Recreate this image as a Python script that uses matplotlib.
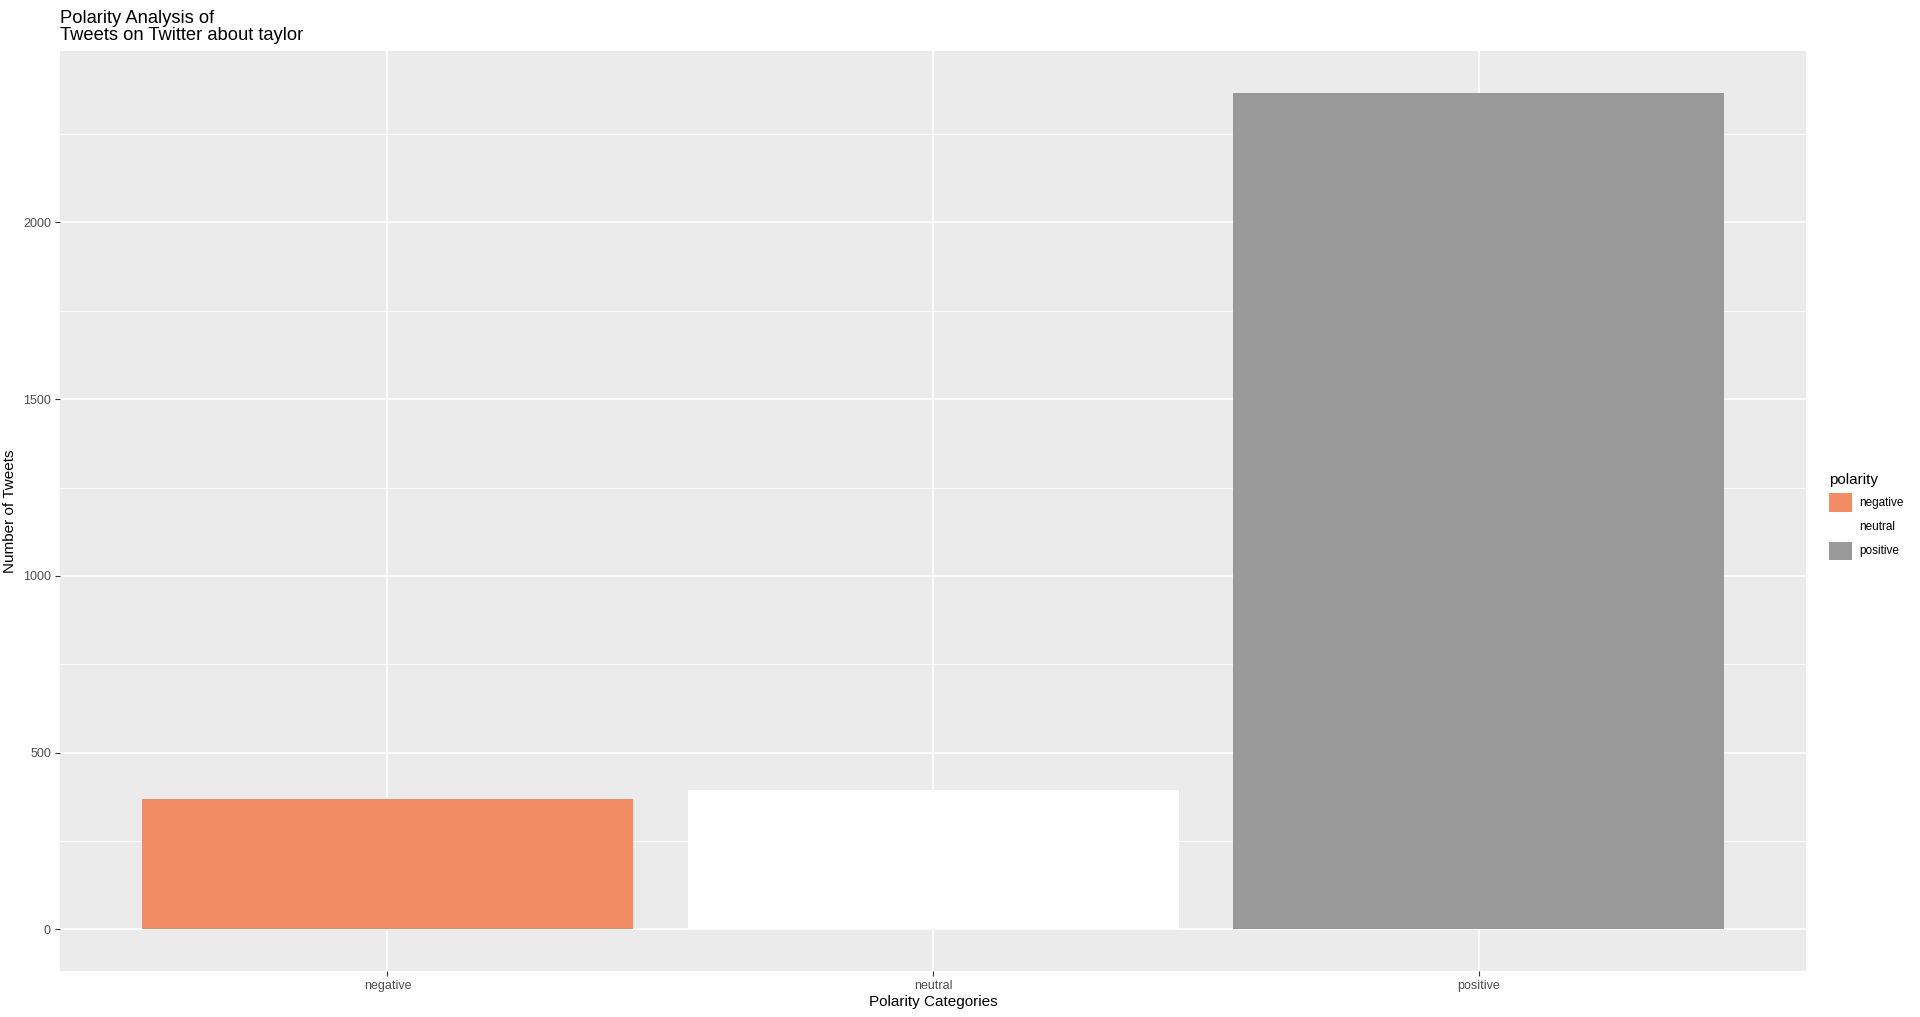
import matplotlib
matplotlib.use('Agg')
import matplotlib.pyplot as plt
from matplotlib.patches import Patch

categories = ["negative", "neutral", "positive"]
counts = [369, 394, 2366]
colors = ["#F08B64", "#FFFFFF", "#999999"]

plt.rcParams['font.family'] = ['Liberation Sans', 'DejaVu Sans']

fig = plt.figure(figsize=(19.2, 10.17), dpi=100)
ax = fig.add_axes([0.03125, 0.0452, 0.9095, 0.9043])
ax.set_facecolor('#EBEBEB')

x = range(1, len(categories) + 1)
ax.bar(x, counts, width=0.9, color=colors, zorder=2)

ymax = max(counts)
ax.set_ylim(-0.05 * ymax, 1.05 * ymax)
ax.set_xlim(0.4, 3.6)
ax.set_xticks(list(x))
ax.set_xticklabels(categories)
ax.set_yticks([0, 500, 1000, 1500, 2000])
ax.set_yticks([250, 750, 1250, 1750, 2250], minor=True)
ax.grid(which='major', color='white', linewidth=1.1, zorder=0)
ax.grid(which='minor', axis='y', color='white', linewidth=0.55, zorder=0)
ax.set_axisbelow(True)
for s in ax.spines.values():
    s.set_visible(False)
ax.tick_params(which='major', length=3.5, color='#333333', labelsize=9, labelcolor='#4D4D4D', pad=3)
ax.tick_params(which='minor', length=0)

ax.set_xlabel('Polarity Categories', fontsize=11, labelpad=2)
ax.set_ylabel('Number of Tweets', fontsize=11, labelpad=4)
ax.set_title('Polarity Analysis of\nTweets on Twitter about taylor', loc='left', fontsize=13.2, pad=8, linespacing=1.05)

handles = [Patch(facecolor=c, edgecolor='none') for c in colors]
leg = fig.legend(handles, categories, title='polarity', loc='center left',
                 bbox_to_anchor=(0.947, 0.492), frameon=False, fontsize=8.5,
                 title_fontsize=11, handlelength=2.0, handleheight=2.0,
                 labelspacing=0.5, handletextpad=0.6)
leg._legend_box.align = 'left'

fig.savefig('out.png', dpi=100)
